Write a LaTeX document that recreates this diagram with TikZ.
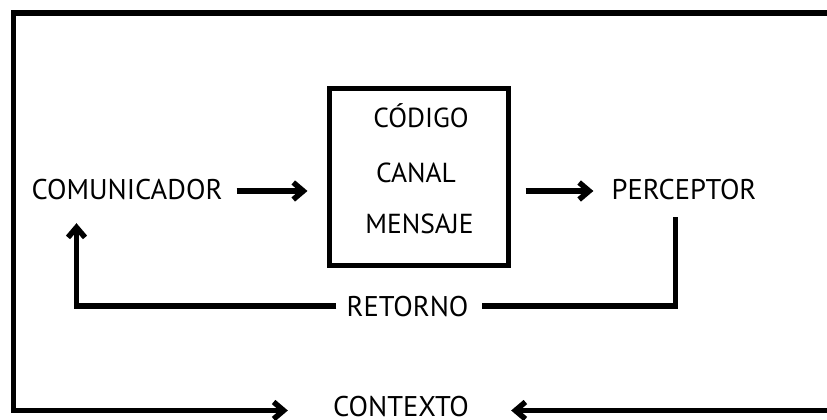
\documentclass[tikz,border=0pt]{standalone}
\usepackage{fontspec}
\setmainfont{PT Sans}
\usetikzlibrary{arrows.meta}
\begin{document}
\begin{tikzpicture}[x=1pt,y=1pt,
  lbl/.style={inner sep=0pt, text height=18pt, text depth=0pt, anchor=base, font=\fontsize{28.5}{32}\selectfont},
  blbl/.style={inner sep=0pt, text height=18pt, text depth=0pt, anchor=base, font=\fontsize{27.5}{32}\selectfont},
  heavy/.style={line width=5.5pt, line join=miter},
  arr/.style={heavy, -{Straight Barb[length=10pt,width=17pt]}},
  boxstyle/.style={draw, line width=5pt, minimum width=178.5pt, minimum height=177pt, inner sep=0pt}
]
\useasboundingbox (0,0) rectangle (827,420);
% nodes
\node[lbl] (com) at (127,220) {COMUNICADOR};
\node[lbl] (per) at (684,220) {PERCEPTOR};
\node[boxstyle] (box) at (418.75,242.5) {};
\node[blbl] (cod) at (421,292.7) {CÓDIGO};
\node[blbl] (can) at (416,237) {CANAL};
\node[blbl] (men) at (419.5,186) {MENSAJE};
\node[lbl] (ret) at (407.5,103.5) {RETORNO};
\node[lbl] (ctx) at (401,3) {CONTEXTO};
\coordinate (tr) at (840,407);
\coordinate (tl) at (13.5,407);
\coordinate (bl) at (13.5,9.5);
\coordinate (br) at (840,9.5);
% main flow
\draw[arr, shorten <=14pt, shorten >=19.5pt] (com.east) -- (com.east -| box.west);
\draw[arr, shorten <=15pt, shorten >=18pt] (per.west -| box.east) -- (per.west);
% feedback
\draw[heavy, shorten >=13pt] ([xshift=-8.5pt,yshift=-17pt]per.south) |- ([yshift=1.5pt]ret.east);
\draw[arr, shorten <=10pt, shorten >=23pt] ([yshift=1.5pt]ret.west) -| ([xshift=-50.5pt]com.south);
% context
\draw[arr, shorten >=45pt] (tr) -- (tl) -- (bl) -- (bl -| ctx.west);
\draw[arr, shorten >=42pt] (br) -- (br -| ctx.east);
\end{tikzpicture}
\end{document}
